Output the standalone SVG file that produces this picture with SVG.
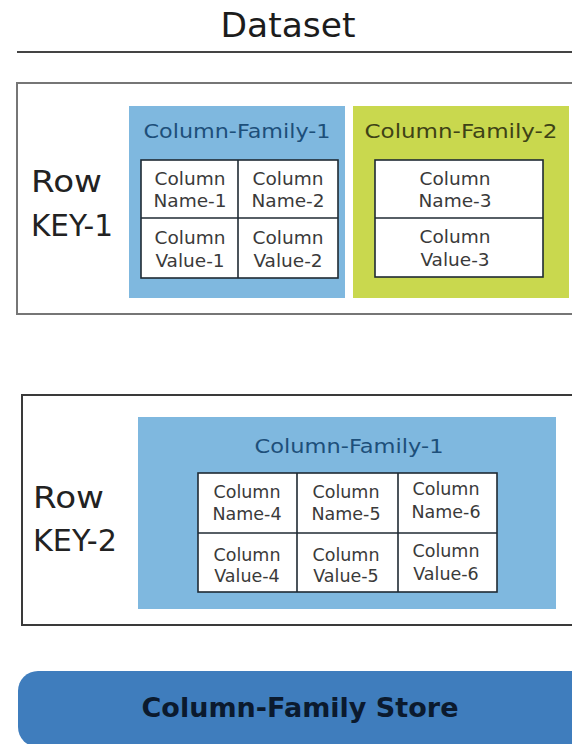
<svg xmlns="http://www.w3.org/2000/svg" width="572" height="744" viewBox="0 0 572 744">
  <style>
    text { font-family: "DejaVu Sans", "Liberation Sans", sans-serif; }
    .row1 { fill: #ffffff; stroke: #767676; stroke-width: 2; }
    .row2 { fill: #ffffff; stroke: #3a3a3a; stroke-width: 2; }
    .cf1 { fill: #7fb8df; }
    .cf2 { fill: #c9d84e; }
    .grid { fill: #ffffff; stroke: #1f2a33; stroke-width: 1.6; }
    .gl { stroke: #1f2a33; stroke-width: 1.6; }
    .key { font-size: 30px; fill: #222222; }
    .cfl1 { font-size: 19px; fill: #1d4f7a; text-anchor: middle; }
    .cfl2 { font-size: 19px; fill: #3e4216; text-anchor: middle; }
    .cell { font-size: 18.5px; fill: #3a3a3a; text-anchor: middle; }
    .cell2 { font-size: 17.5px; fill: #3a3a3a; text-anchor: middle; }
  </style>

  <!-- title -->
  <g id="title">
    <text x="288" y="37" font-size="33" fill="#1c1c1c" text-anchor="middle" textLength="135" lengthAdjust="spacingAndGlyphs">Dataset</text>
    <line x1="17" y1="52" x2="572" y2="52" stroke="#444444" stroke-width="2"/>
  </g>

  <!-- first row -->
  <g id="row-key-1">
    <rect class="row1" x="17" y="83" width="560" height="231"/>
    <text class="key" x="31" y="192" textLength="71" lengthAdjust="spacingAndGlyphs">Row</text>
    <text class="key" x="31" y="236" textLength="82" lengthAdjust="spacingAndGlyphs">KEY-1</text>
  </g>

  <g id="row1-cf1">
    <rect class="cf1" x="129" y="106" width="216" height="192"/>
    <text class="cfl1" x="237" y="138" textLength="187" lengthAdjust="spacingAndGlyphs">Column-Family-1</text>
    <rect class="grid" x="141" y="160" width="197" height="118"/>
    <line class="gl" x1="238" y1="160" x2="238" y2="278"/>
    <line class="gl" x1="141" y1="218" x2="338" y2="218"/>
    <text class="cell" x="190" y="185">Column</text>
    <text class="cell" x="190" y="207">Name-1</text>
    <text class="cell" x="288" y="185">Column</text>
    <text class="cell" x="288" y="207">Name-2</text>
    <text class="cell" x="190" y="244">Column</text>
    <text class="cell" x="190" y="267">Value-1</text>
    <text class="cell" x="288" y="244">Column</text>
    <text class="cell" x="288" y="267">Value-2</text>
  </g>

  <g id="row1-cf2">
    <rect class="cf2" x="353" y="106" width="216" height="192"/>
    <text class="cfl2" x="461" y="138" textLength="193" lengthAdjust="spacingAndGlyphs">Column-Family-2</text>
    <rect class="grid" x="375" y="160" width="168" height="117"/>
    <line class="gl" x1="375" y1="218" x2="543" y2="218"/>
    <text class="cell" x="455" y="185">Column</text>
    <text class="cell" x="455" y="207">Name-3</text>
    <text class="cell" x="455" y="243">Column</text>
    <text class="cell" x="455" y="266">Value-3</text>
  </g>

  <!-- second row -->
  <g id="row-key-2">
    <rect class="row2" x="22" y="395" width="555" height="230"/>
    <text class="key" x="33" y="508" textLength="71" lengthAdjust="spacingAndGlyphs">Row</text>
    <text class="key" x="33" y="551" textLength="84" lengthAdjust="spacingAndGlyphs">KEY-2</text>
  </g>

  <g id="row2-cf1">
    <rect class="cf1" x="138" y="417" width="418" height="192"/>
    <text class="cfl1" x="349" y="453" textLength="189" lengthAdjust="spacingAndGlyphs">Column-Family-1</text>
    <rect class="grid" x="198" y="473" width="299" height="119"/>
    <line class="gl" x1="297" y1="473" x2="297" y2="592"/>
    <line class="gl" x1="398" y1="473" x2="398" y2="592"/>
    <line class="gl" x1="198" y1="533" x2="497" y2="533"/>
    <text class="cell2" x="247" y="498">Column</text>
    <text class="cell2" x="247" y="520">Name-4</text>
    <text class="cell2" x="346" y="498">Column</text>
    <text class="cell2" x="346" y="520">Name-5</text>
    <text class="cell2" x="446" y="495">Column</text>
    <text class="cell2" x="446" y="518">Name-6</text>
    <text class="cell2" x="247" y="561">Column</text>
    <text class="cell2" x="247" y="582">Value-4</text>
    <text class="cell2" x="346" y="561">Column</text>
    <text class="cell2" x="346" y="582">Value-5</text>
    <text class="cell2" x="446" y="557">Column</text>
    <text class="cell2" x="446" y="580">Value-6</text>
  </g>

  <!-- store banner -->
  <g id="store">
    <rect x="18" y="671" width="572" height="76" rx="20" ry="20" fill="#3f7dbd"/>
    <text x="300" y="717" font-size="27" font-weight="bold" fill="#0b1a2e" text-anchor="middle" textLength="317" lengthAdjust="spacingAndGlyphs">Column-Family Store</text>
  </g>
</svg>
